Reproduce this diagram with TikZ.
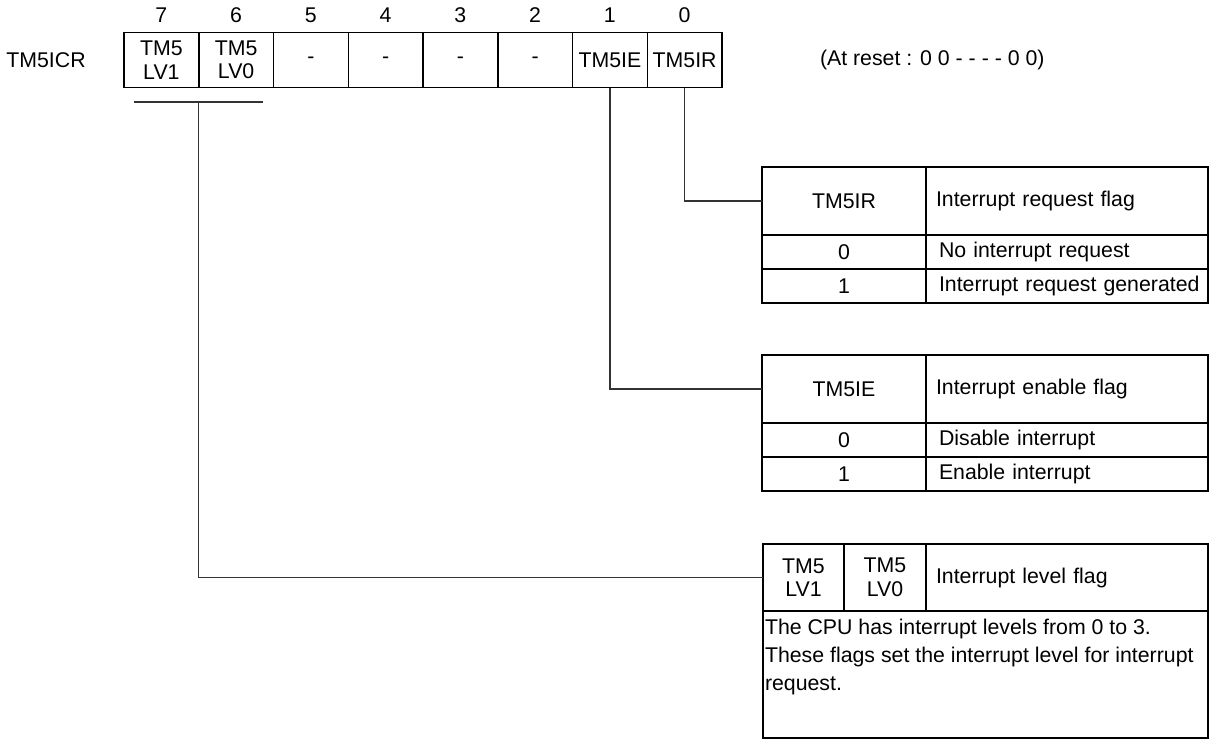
\documentclass[tikz,border=0pt]{standalone}
\usepackage{fontspec}
\setmainfont{Liberation Sans}
\usepackage{tikz}
\usetikzlibrary{positioning}

\begin{document}
\begin{tikzpicture}[x=1pt,y=-1pt,
    font=\fontsize{21.3}{23.5}\selectfont,
    every node/.style={inner sep=0pt,outer sep=0pt},
    bitcell/.style={draw,line width=1.5pt,minimum width=74.75pt,minimum height=55pt,align=center},
    keycell/.style={draw,line width=1.3pt,minimum width=164pt,minimum height=34pt,align=center},
    desccell/.style={draw,line width=1.3pt,minimum height=34pt,inner xsep=10pt,text width=262pt,align=left},
    wire/.style={draw=black!80,line width=1.3pt}]
    \useasboundingbox (0,0) rectangle (1213,740);

    % register and bit numbers
    \node (reg) at (46,60) {TM5ICR};
    \node[bitcell] (bit7) at (161.4,60) {TM5\\LV1};
    \node[bitcell,right=0pt of bit7] (bit6) {TM5\\LV0};
    \node[bitcell,right=0pt of bit6] (bit5) {-};
    \node[bitcell,right=0pt of bit5] (bit4) {-};
    \node[bitcell,right=0pt of bit4] (bit3) {-};
    \node[bitcell,right=0pt of bit3] (bit2) {-};
    \node[bitcell,right=0pt of bit2] (bit1) {TM5IE};
    \node[bitcell,right=0pt of bit1] (bit0) {TM5IR};
    \foreach \b in {7,...,0}
        \node at (bit\b |- 0,15) {\b};
    \node[anchor=west] (rst) at (820,60) {(At reset : 0 0 - - - - 0 0)};

    % TM5IR table
    \node[keycell,minimum height=68pt] (irKey) at (844,201) {TM5IR};
    \node[desccell,minimum height=68pt,right=0pt of irKey] (irDesc) {Interrupt request flag};
    \node[keycell,below=0pt of irKey] (irKey0) {0};
    \node[desccell,below=0pt of irDesc] (irDesc0) {\mbox{\hspace{3pt}No interrupt request}};
    \node[keycell,below=0pt of irKey0] (irKey1) {1};
    \node[desccell,below=0pt of irDesc0] (irDesc1) {\mbox{\hspace{3pt}Interrupt request generated}};

    % TM5IE table
    \node[keycell,minimum height=68pt] (ieKey) at (844,389) {TM5IE};
    \node[desccell,minimum height=68pt,right=0pt of ieKey] (ieDesc) {Interrupt enable flag};
    \node[keycell,below=0pt of ieKey] (ieKey0) {0};
    \node[desccell,below=0pt of ieDesc] (ieDesc0) {\mbox{\hspace{3pt}Disable interrupt}};
    \node[keycell,below=0pt of ieKey0] (ieKey1) {1};
    \node[desccell,below=0pt of ieDesc0] (ieDesc1) {\mbox{\hspace{3pt}Enable interrupt}};

    % TM5LV1/TM5LV0 table
    \node[keycell,minimum width=81pt,minimum height=67pt] (lvKey1) at (803.5,577.5) {TM5\\LV1};
    \node[keycell,minimum width=82pt,minimum height=67pt,right=0pt of lvKey1] (lvKey0) {TM5\\LV0};
    \node[desccell,minimum height=67pt,right=0pt of lvKey0] (lvDesc) {Interrupt level flag};
    \node[draw,line width=1.3pt,anchor=north west,inner xsep=2pt,inner ysep=4pt] (lvBody) at (lvKey1.south west)
        {\fontsize{21.3}{28}\selectfont\parbox[c][119pt][t]{441pt}{\vspace*{4pt}The CPU has interrupt levels from 0 to 3.\\
        These flags set the interrupt level for interrupt\\request.}};

    % connectors
    \coordinate (lvTap) at (198.5,102);
    \draw[wire] ([xshift=-64.5pt]lvTap) -- ([xshift=64.5pt]lvTap);
    \draw[wire] (lvTap) |- (lvKey1.west);
    \draw[wire] (bit1.south) |- (ieKey.west);
    \draw[wire] (bit0.south) |- (irKey.west);
\end{tikzpicture}
\end{document}
